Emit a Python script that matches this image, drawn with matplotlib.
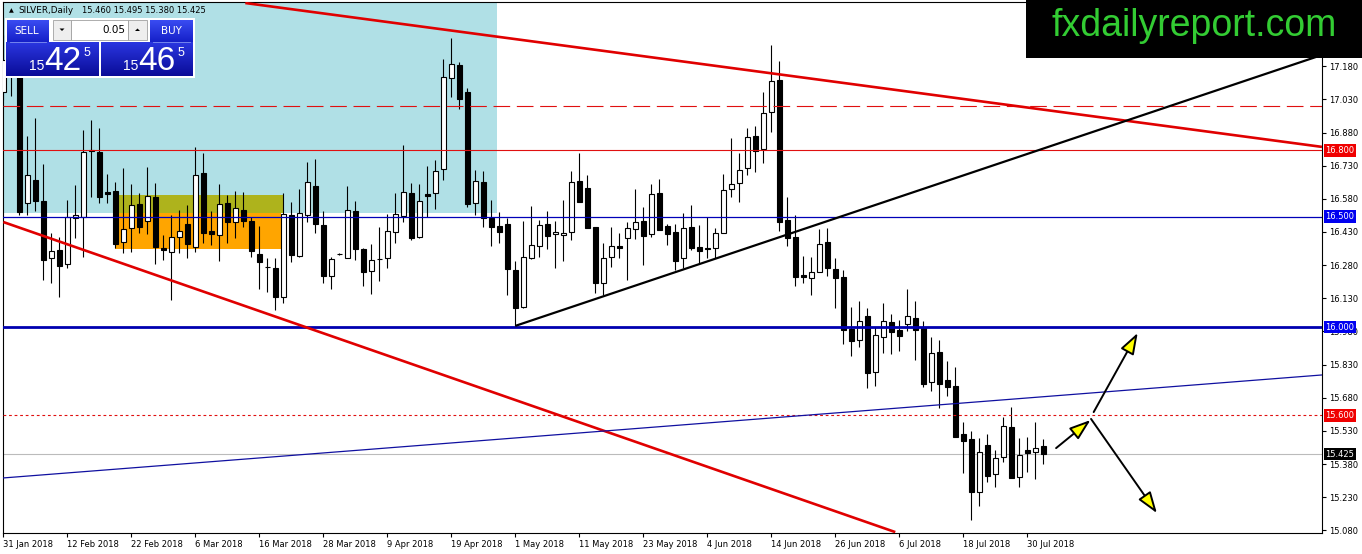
import numpy as np
import matplotlib
matplotlib.use("Agg")
import matplotlib.pyplot as plt
from matplotlib.patches import Rectangle, Polygon
from matplotlib.transforms import blended_transform_factory

plt.rcParams['font.family'] = ['DejaVu Sans']

# ---------------- data (SILVER, Daily) ----------------
opens = [17.063, 17.208, 17.154, 16.561, 16.665, 16.570, 16.312, 16.348, 16.285, 16.493,
         16.498, 16.801, 16.792, 16.611, 16.615, 16.385, 16.448, 16.557, 16.480, 16.588,
         16.357, 16.339, 16.407, 16.466, 16.362, 16.697, 16.434, 16.416, 16.561, 16.475,
         16.529, 16.480, 16.330, 16.272, 16.267, 16.136, 16.507, 16.321, 16.507, 16.638,
         16.462, 16.231, 16.331, 16.312, 16.525, 16.353, 16.253, 16.308, 16.312, 16.430,
         16.502, 16.606, 16.407, 16.602, 16.606, 16.715, 17.127, 17.186, 17.063, 16.561,
         16.656, 16.493, 16.457, 16.466, 16.258, 16.091, 16.312, 16.367, 16.466, 16.421,
         16.416, 16.430, 16.661, 16.629, 16.452, 16.199, 16.317, 16.367, 16.403, 16.443,
         16.480, 16.421, 16.606, 16.457, 16.430, 16.312, 16.452, 16.362, 16.357, 16.357,
         16.425, 16.624, 16.652, 16.719, 16.864, 16.805, 16.973, 17.118, 16.484, 16.407,
         16.235, 16.222, 16.249, 16.385, 16.262, 16.226, 15.991, 15.941, 16.050, 15.796,
         15.955, 16.023, 15.986, 16.014, 16.041, 15.995, 15.751, 15.887, 15.760, 15.733,
         15.516, 15.493, 15.253, 15.466, 15.335, 15.412, 15.548, 15.321, 15.443, 15.434,
         15.460]
highs = [17.321, 17.299, 17.199, 16.864, 16.946, 16.738, 16.425, 16.407, 16.575, 16.643,
         16.891, 16.937, 16.900, 16.692, 16.656, 16.719, 16.647, 16.606, 16.724, 16.652,
         16.416, 16.507, 16.529, 16.552, 16.815, 16.787, 16.525, 16.647, 16.597, 16.615,
         16.611, 16.498, 16.457, 16.312, 16.312, 16.606, 16.566, 16.624, 16.747, 16.760,
         16.525, 16.317, 16.335, 16.638, 16.570, 16.357, 16.376, 16.452, 16.511, 16.606,
         16.824, 16.652, 16.647, 16.729, 16.756, 17.213, 17.308, 17.199, 17.081, 16.710,
         16.706, 16.575, 16.520, 16.493, 16.299, 16.480, 16.548, 16.484, 16.525, 16.480,
         16.575, 16.706, 16.787, 16.688, 16.452, 16.380, 16.452, 16.425, 16.475, 16.624,
         16.543, 16.647, 16.670, 16.466, 16.466, 16.516, 16.552, 16.462, 16.498, 16.448,
         16.692, 16.855, 16.787, 16.900, 16.910, 17.063, 17.276, 17.204, 16.588, 16.507,
         16.321, 16.317, 16.443, 16.448, 16.312, 16.258, 16.091, 16.118, 16.086, 16.000,
         16.109, 16.059, 16.032, 16.172, 16.118, 16.027, 15.955, 15.941, 15.846, 15.819,
         15.570, 15.529, 15.498, 15.516, 15.443, 15.593, 15.638, 15.498, 15.502, 15.570,
         15.495]
lows = [17.027, 17.045, 16.507, 16.507, 16.525, 16.213, 16.199, 16.136, 16.267, 16.403,
        16.317, 16.588, 16.561, 16.561, 16.357, 16.335, 16.339, 16.425, 16.421, 16.285,
        16.303, 16.122, 16.335, 16.312, 16.339, 16.380, 16.371, 16.299, 16.380, 16.403,
        16.452, 16.317, 16.172, 16.158, 16.077, 16.109, 16.294, 16.315, 16.475, 16.425,
        16.199, 16.172, 16.326, 16.310, 16.303, 16.186, 16.149, 16.208, 16.267, 16.380,
        16.475, 16.394, 16.403, 16.498, 16.534, 16.665, 17.041, 16.986, 16.543, 16.507,
        16.452, 16.367, 16.380, 16.145, 16.005, 16.086, 16.308, 16.317, 16.353, 16.267,
        16.299, 16.394, 16.566, 16.448, 16.154, 16.145, 16.272, 16.312, 16.213, 16.398,
        16.281, 16.407, 16.439, 16.371, 16.258, 16.267, 16.348, 16.290, 16.312, 16.312,
        16.425, 16.588, 16.566, 16.688, 16.701, 16.742, 16.882, 16.434, 16.367, 16.186,
        16.199, 16.145, 16.249, 16.231, 16.086, 15.923, 15.869, 15.910, 15.724, 15.733,
        15.882, 15.878, 15.891, 15.982, 15.851, 15.728, 15.710, 15.633, 15.688, 15.502,
        15.339, 15.127, 15.190, 15.299, 15.276, 15.389, 15.317, 15.276, 15.344, 15.312,
        15.380]
closes = [17.208, 17.163, 16.520, 16.688, 16.570, 16.303, 16.344, 16.276, 16.498, 16.507,
          16.792, 16.796, 16.588, 16.602, 16.376, 16.443, 16.552, 16.452, 16.593, 16.362,
          16.348, 16.407, 16.434, 16.376, 16.688, 16.425, 16.421, 16.557, 16.475, 16.538,
          16.480, 16.344, 16.294, 16.270, 16.136, 16.511, 16.326, 16.516, 16.656, 16.466,
          16.231, 16.308, 16.329, 16.529, 16.353, 16.249, 16.303, 16.306, 16.434, 16.511,
          16.611, 16.403, 16.570, 16.593, 16.706, 17.131, 17.190, 17.032, 16.557, 16.661,
          16.493, 16.452, 16.430, 16.262, 16.086, 16.317, 16.371, 16.462, 16.412, 16.430,
          16.425, 16.656, 16.566, 16.448, 16.199, 16.312, 16.367, 16.357, 16.448, 16.475,
          16.412, 16.602, 16.439, 16.421, 16.299, 16.448, 16.357, 16.344, 16.351, 16.425,
          16.620, 16.647, 16.710, 16.860, 16.796, 16.968, 17.113, 16.475, 16.403, 16.226,
          16.226, 16.249, 16.376, 16.267, 16.222, 15.986, 15.937, 16.027, 15.792, 15.964,
          16.027, 15.977, 15.959, 16.050, 15.986, 15.742, 15.882, 15.742, 15.728, 15.502,
          15.484, 15.253, 15.434, 15.326, 15.407, 15.552, 15.317, 15.421, 15.430, 15.452,
          15.425]

date_labels = ["31 Jan 2018", "12 Feb 2018", "22 Feb 2018", "6 Mar 2018", "16 Mar 2018",
               "28 Mar 2018", "9 Apr 2018", "19 Apr 2018", "1 May 2018", "11 May 2018",
               "23 May 2018", "4 Jun 2018", "14 Jun 2018", "26 Jun 2018", "6 Jul 2018",
               "18 Jul 2018", "30 Jul 2018"]
date_label_step = 8  # bars between date labels

price_ticks = [17.180, 17.030, 16.880, 16.730, 16.580, 16.430, 16.280, 16.130,
               15.980, 15.830, 15.680, 15.530, 15.380, 15.230, 15.080]

# horizontal levels
level_dash_17 = 17.000
level_red_168 = 16.800
level_blue_165 = 16.500
level_blue_16 = 16.000
level_red_156 = 15.600
bid_price = 15.425

tag_prices = [16.800, 16.500, 16.000, 15.600, 15.425]
tag_colors = ['#F00000', '#0000F0', '#0000F0', '#F00000', '#000000']

# trend lines: (bar index pair, price pair)
upper_red_x, upper_red_y = [30.25, 164.84], [17.466, 16.815]
lower_red_x, lower_red_y = [0.0, 111.5], [16.475, 15.072]
black_tr_x, black_tr_y = [64.0, 164.84], [16.005, 17.231]
blue_tr_x, blue_tr_y = [0.0, 164.84], [15.317, 15.783]

# zones (x0, x1, p0, p1)
sky_zone = (-1.0, 61.7, 16.516, 17.60)
olive_zone = (13.96, 34.96, 16.516, 16.597)
orange_zone = (13.96, 34.70, 16.353, 16.516)

# arrows (tail -> tip)
arrow_tails = [(131.6, 15.452), (136.3, 15.615), (135.97, 15.584)]
arrow_tips = [(135.9, 15.579), (141.8, 15.973), (144.2, 15.158)]

ohlc_title = "15.460 15.495 15.380 15.425"

# ---------------- figure ----------------
W, H = 1362, 554
fig = plt.figure(figsize=(W / 100, H / 100), dpi=100, facecolor='white')
ax = fig.add_axes([3 / W, 21 / H, 1319 / W, 531 / H])
ax.set_facecolor('white')

n = len(opens)
x = np.arange(n)
o = np.array(opens); h = np.array(highs); l = np.array(lows); c = np.array(closes)
up = c >= o

# zones
for (x0, x1, p0, p1), col in [(sky_zone, '#B0E0E6'), (olive_zone, '#AEB31C'), (orange_zone, '#FFA500')]:
    ax.add_patch(Rectangle((x0, p0), x1 - x0, p1 - p0, facecolor=col, edgecolor='none', zorder=1))

# candles
ax.vlines(x, l, h, color='black', lw=0.8, zorder=3)
bot = np.minimum(o, c)
hgt = np.abs(c - o)
ax.bar(x[up], hgt[up], bottom=bot[up], width=0.62, facecolor='white', edgecolor='black', lw=0.8, zorder=4)
ax.bar(x[~up], hgt[~up], bottom=bot[~up], width=0.62, facecolor='black', edgecolor='black', lw=0.8, zorder=4)

# horizontal levels
ax.axhline(level_dash_17, color='#E01010', lw=0.8, ls=(0, (15, 6)), zorder=5)
ax.axhline(level_red_168, color='#E01010', lw=0.8, zorder=5)
ax.axhline(level_blue_165, color='#0000B8', lw=0.9, zorder=5)
ax.axhline(level_blue_16, color='#0000B0', lw=2.0, zorder=5)
ax.axhline(level_red_156, color='#E01010', lw=0.8, ls=(0, (2.5, 2.5)), zorder=5)
ax.axhline(bid_price, color='#BBBBBB', lw=0.8, zorder=2)

# trend lines
ax.plot(upper_red_x, upper_red_y, color='#E00000', lw=1.9, zorder=5, solid_capstyle='butt')
ax.plot(lower_red_x, lower_red_y, color='#E00000', lw=1.9, zorder=5, solid_capstyle='butt')
ax.plot(black_tr_x, black_tr_y, color='black', lw=1.6, zorder=5, solid_capstyle='butt')
ax.plot(blue_tr_x, blue_tr_y, color='#1010A0', lw=0.9, zorder=5)

# arrows
for tail, tip in zip(arrow_tails, arrow_tips):
    ax.annotate('', xy=tip, xytext=tail,
                arrowprops=dict(arrowstyle='-|>,head_length=1.3,head_width=0.45',
                                fc='#FFFF00', ec='black', lw=1.4,
                                shrinkA=0, shrinkB=0, mutation_scale=10),
                zorder=6)

ax.set_xlim(-0.0375, 164.84)
ax.set_ylim(15.0679, 17.4706)

# axes styling
for s in ax.spines.values():
    s.set_color('black'); s.set_linewidth(0.8)
ax.yaxis.tick_right()
ax.set_yticks(price_ticks)
ax.set_yticklabels([f"{v:.3f}" for v in price_ticks])
ax.tick_params(axis='y', direction='out', length=3, width=0.8, labelsize=6, pad=2, colors='black')
tick_pos = [i * date_label_step for i in range(len(date_labels))]
ax.set_xticks(tick_pos)
ax.set_xticklabels(date_labels)
ax.tick_params(axis='x', direction='out', length=3, width=0.8, labelsize=6, pad=2, colors='black')
for lab in ax.get_xticklabels():
    lab.set_horizontalalignment('left')

# price tags on the right axis
tr = blended_transform_factory(ax.transAxes, ax.transData)
for p, col in zip(tag_prices, tag_colors):
    ax.text(1.0 + 3.5 / 1319, p, f"{p:.3f}", transform=tr, ha='left', va='center',
            fontsize=6, color='white', zorder=8, clip_on=False,
            bbox=dict(boxstyle='square,pad=0.22', fc=col, ec='none'))

# ---------------- overlay (panel, title, logo) ----------------
ov = fig.add_axes([0, 0, 1, 1], zorder=10)
ov.patch.set_visible(False)
ov.axis('off')


def grad(x0, y0, x1, y1, ctop, cbot):
    t = np.linspace(0, 1, 64)[:, None, None]
    a = np.array(matplotlib.colors.to_rgb(ctop))[None, None, :]
    b = np.array(matplotlib.colors.to_rgb(cbot))[None, None, :]
    img = a * (1 - t) + b * t
    ov.imshow(img, extent=(x0, x1, y1, y0), aspect='auto', interpolation='bilinear', zorder=2)


# title line
ov.text(9, 10.5, "\u25B2", fontsize=4.5, color='black', ha='left', va='center')
ov.text(18, 10.5, "SILVER,Daily", fontsize=6.4, color='black', ha='left', va='center')
ov.text(82, 10.5, ohlc_title, fontsize=6.0, color='black', ha='left', va='center')

# one-click trading panel
ov.add_patch(Rectangle((5, 18), 190, 60, facecolor='white', edgecolor='none', zorder=1))
grad(7, 20, 49, 42, '#3A4CF2', '#1520C8')
grad(150, 20, 193, 42, '#3A4CF2', '#1520C8')
grad(6, 42, 99, 76, '#2A36E0', '#0A0C98')
grad(101, 42, 193, 76, '#2A36E0', '#0A0C98')
ov.add_patch(Rectangle((53, 20), 18, 20, facecolor='#EEEEEE', edgecolor='#A0A0A0', lw=0.6, zorder=3))
ov.add_patch(Rectangle((71, 20), 57, 20, facecolor='white', edgecolor='#A0A0A0', lw=0.6, zorder=3))
ov.add_patch(Rectangle((128, 20), 19, 20, facecolor='#EEEEEE', edgecolor='#A0A0A0', lw=0.6, zorder=3))
ov.add_patch(Polygon([(59.5, 28.5), (64.5, 28.5), (62, 31)], closed=True, facecolor='black', edgecolor='none', zorder=4))
ov.add_patch(Polygon([(135, 31), (140, 31), (137.5, 28.5)], closed=True, facecolor='black', edgecolor='none', zorder=4))
ov.plot([10, 46], [41.5, 41.5], color='#8090F0', lw=0.6, zorder=4)
ov.plot([153, 190], [41.5, 41.5], color='#8090F0', lw=0.6, zorder=4)
ov.text(27, 30.5, "SELL", fontsize=7.5, color='white', ha='center', va='center', zorder=5)
ov.text(171, 30.5, "BUY", fontsize=7.5, color='white', ha='center', va='center', zorder=5)
ov.text(125, 30, "0.05", fontsize=7.5, color='black', ha='right', va='center', zorder=5)
for xs, big in [(29, "42"), (123, "46")]:
    ov.text(xs, 70, "15", fontsize=10, color='white', ha='left', va='baseline',
            family='Liberation Sans', zorder=5)
    ov.text(xs + 15, 70, big, fontsize=24, color='white', ha='left', va='baseline',
            family='Liberation Sans', zorder=5)
    ov.text(xs + 55, 56, "5", fontsize=9, color='white', ha='left', va='baseline',
            family='Liberation Sans', zorder=5)

# logo
ov.add_patch(Rectangle((1026, 0), 336, 58, facecolor='black', edgecolor='none', zorder=6))
ov.text(1194, 36, "fxdailyreport.com", fontsize=27, color='#33CC33', ha='center',
        va='baseline', family='Liberation Sans', zorder=7)

ov.set_xlim(0, W)
ov.set_ylim(H, 0)

fig.savefig('out.png', dpi=100, facecolor='white')
